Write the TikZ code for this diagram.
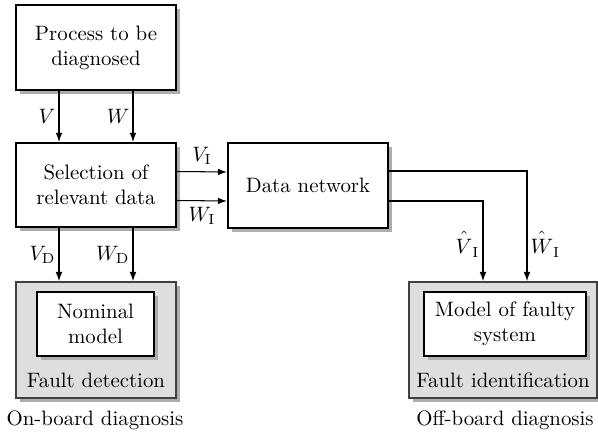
\documentclass[tikz,border=0pt]{standalone}
\usetikzlibrary{arrows.meta,shadows,calc}
\newcommand{\esthat}[1]{\hat{#1\rule{0pt}{8.3pt}}}
\begin{document}
\begin{tikzpicture}[x=0.48pt,y=-0.48pt,
  shade box/.style={drop shadow={shadow xshift=2pt,shadow yshift=-2pt,fill=black!32,opacity=1}},
  block/.style={draw=black,line width=1pt,fill=white,align=center,inner sep=0pt,shade box},
  group/.style={draw=black!75,line width=0.8pt,fill=black!13,inner sep=0pt,shade box},
  arr/.style={-{Latex[length=4.4pt,width=3.2pt]},line width=0.5pt},
  lbl/.style={inner sep=1.5pt}]
\useasboundingbox (0,0) rectangle (598,433);

% main blocks
\node[block,minimum width=160*0.48pt,minimum height=85*0.48pt] (proc) at (96,47.5) {Process to be\\diagnosed};
\node[block,minimum width=160*0.48pt,minimum height=84*0.48pt] (sel) at (96,185) {Selection of\\relevant data};
\node[block,minimum width=160*0.48pt,minimum height=85*0.48pt] (net) at (308,185.5) {Data network};

% on-board side
\node[group,minimum width=160*0.48pt,minimum height=116*0.48pt] (det) at (96,340) {};
\node[block,minimum width=117*0.48pt,minimum height=64*0.48pt] (nom) at (95.5,324) {Nominal\\model};
\node (dettxt) at (96,380) {Fault detection};
\node (on) at (95,420) {On-board diagnosis};

% off-board side
\node[group,minimum width=188*0.48pt,minimum height=116*0.48pt] (idf) at (503,340) {};
\node[block,minimum width=162*0.48pt,minimum height=64*0.48pt] (fm) at (505,324) {Model of faulty\\system};
\node (idtxt) at (503,380) {Fault identification};
\node (off) at (505,420) {Off-board diagnosis};

% process -> selection
\draw[arr] ($(proc.south)+(-37,0)$) -- node[lbl,left]{$V$} ($(sel.north)+(-37,0)$);
\draw[arr] ($(proc.south)+(37,0)$) -- node[lbl,left]{$W$} ($(sel.north)+(37,0)$);

% selection -> detection
\draw[arr] ($(sel.south)+(-37,0)$) -- node[lbl,left]{$V_{\mathrm{D}}$} ($(det.north)+(-37,0)$);
\draw[arr] ($(sel.south)+(37,0)$) -- node[lbl,left]{$W_{\mathrm{D}}$} ($(det.north)+(37,0)$);

% selection -> network
\draw[arr] ($(sel.east)+(0,-13.5)$) -- node[lbl,above,inner sep=3pt]{$V_{\mathrm{I}}$} ($(net.west)+(0,-13.5)$);
\draw[arr] ($(sel.east)+(0,15.5)$) -- node[lbl,below,inner sep=3pt]{$W_{\mathrm{I}}$} ($(net.west)+(0,15.5)$);

% network -> identification
\draw[arr] ($(net.east)+(0,15.5)$) -| coordinate[pos=0.75](vk) ($(idf.north)+(-20,0)$);
\draw[arr] ($(net.east)+(0,-14.5)$) -| coordinate[pos=0.75](wk) ($(idf.north)+(24,0)$);
\node[lbl,left] (vh) at ($(vk)+(0,3)$) {$\esthat{V}_{\mathrm{I}}$};
\node[lbl,right] (wh) at ($(wk)+(0,18)$) {$\esthat{W}_{\mathrm{I}}$};
\end{tikzpicture}
\end{document}
